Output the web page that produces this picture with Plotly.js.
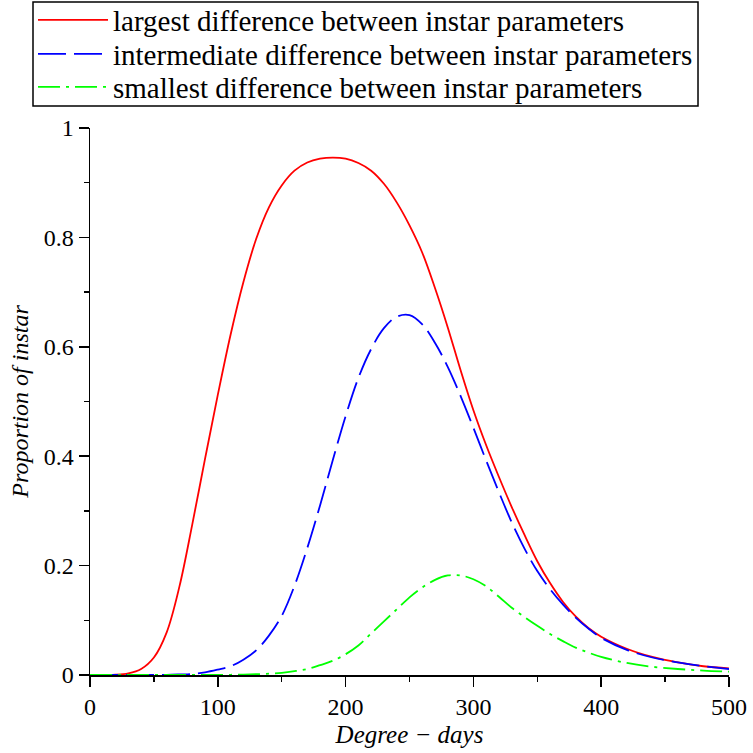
<!DOCTYPE html>
<html>
<head>
<meta charset="utf-8">
<script src="https://cdn.plot.ly/plotly-3.0.1.min.js"></script>
<style>html,body{margin:0;padding:0;background:#fff;}#chart{width:753px;height:753px;}</style>
</head>
<body>
<div id="chart"></div>
<script>
var degreeDays = [0,20,30,40,50,60,70,80,90,100,110,120,130,140,150,160,170,180,190,200,210,220,230,240,250,260,270,280,290,300,310,320,330,340,350,360,370,380,390,400,420,440,460,480,500];
var largestDiff = [0,0.0005,0.003,0.011,0.032,0.078,0.162,0.275,0.395,0.512,0.622,0.718,0.797,0.855,0.895,0.922,0.937,0.944,0.946,0.944,0.936,0.922,0.898,0.864,0.822,0.772,0.707,0.635,0.557,0.484,0.42,0.362,0.307,0.256,0.208,0.168,0.134,0.107,0.086,0.07,0.048,0.033,0.023,0.016,0.012];
var intermediateDiff = [0,0,0,0,0.0001,0.0003,0.001,0.002,0.005,0.01,0.016,0.028,0.045,0.072,0.108,0.163,0.232,0.31,0.393,0.473,0.543,0.596,0.634,0.655,0.658,0.641,0.607,0.563,0.51,0.452,0.392,0.334,0.279,0.231,0.19,0.157,0.129,0.105,0.085,0.068,0.046,0.032,0.023,0.016,0.011];
var smallestDiff = [0,0,0,0,0,0,0,0,0,0.0002,0.0004,0.0008,0.0015,0.0025,0.004,0.007,0.011,0.018,0.026,0.038,0.054,0.076,0.098,0.12,0.142,0.16,0.174,0.182,0.182,0.175,0.162,0.143,0.123,0.106,0.09,0.075,0.062,0.05,0.041,0.033,0.022,0.015,0.011,0.008,0.006];
var seriesNames = ["largest difference between instar parameters","intermediate difference between instar parameters","smallest difference between instar parameters"];
var xTicks = [0,100,200,300,400,500];
var yTicks = [0,0.2,0.4,0.6,0.8,1];
var yTickText = ["0","0.2","0.4","0.6","0.8","1"];

var font = "Liberation Serif";
var traces = [
  {x: degreeDays, y: largestDiff, name: seriesNames[0], legend: "legend", mode: "lines", line: {color: "#ff0000", width: 1.8, shape: "spline", smoothing: 1}},
  {x: degreeDays, y: intermediateDiff, name: seriesNames[1], legend: "legend2", mode: "lines", line: {color: "#0000ff", width: 1.8, dash: "28px,8px", shape: "spline", smoothing: 1}},
  {x: degreeDays, y: smallestDiff, name: seriesNames[2], legend: "legend3", mode: "lines", line: {color: "#00ff00", width: 1.8, dash: "22px,6px,3px,6px", shape: "spline", smoothing: 1}}
];
function legendAt(yc) {
  return {x: -0.0892, y: yc, xanchor: "left", yanchor: "middle", bgcolor: "rgba(0,0,0,0)", borderwidth: 0,
    font: {family: font, size: 29, color: "#000"}, itemwidth: 70};
}
var layout = {
  width: 753, height: 753,
  margin: {l: 90, r: 24, t: 128, b: 78, autoexpand: false},
  paper_bgcolor: "#fff", plot_bgcolor: "#fff",
  font: {family: font, size: 24, color: "#000"},
  showlegend: true,
  legend: legendAt(1.1974),
  legend2: legendAt(1.1353),
  legend3: legendAt(1.0750),
  shapes: [{type: "rect", xref: "paper", yref: "paper", x0: -0.0892, x1: 0.9515, y0: 1.0402, y1: 1.2303,
    line: {color: "#000", width: 1.5}, fillcolor: "rgba(0,0,0,0)", layer: "below"}],
  xaxis: {range: [0, 500], tickvals: xTicks, ticktext: xTicks.map(String), ticks: "outside", ticklen: 10, tickwidth: 1.5, tickcolor: "#000",
    minor: {dtick: 50, ticks: "outside", ticklen: 5, tickwidth: 1.5, tickcolor: "#000"},
    showline: true, linecolor: "#000", linewidth: 1.5, showgrid: false, zeroline: false,
    title: {text: "<i>Degree − days</i>", font: {family: font, size: 25}, standoff: 6}},
  yaxis: {range: [0, 1], tickvals: yTicks, ticktext: yTickText, ticks: "outside", ticklen: 10, tickwidth: 1.5, tickcolor: "#000",
    minor: {dtick: 0.1, ticks: "outside", ticklen: 5, tickwidth: 1.5, tickcolor: "#000"},
    showline: true, linecolor: "#000", linewidth: 1.5, showgrid: false, zeroline: false,
    title: {text: "<i>Proportion of instar</i>", font: {family: font, size: 24}, standoff: 8}}
};
Plotly.newPlot("chart", traces, layout, {displayModeBar: false, staticPlot: true});
</script>
</body>
</html>
